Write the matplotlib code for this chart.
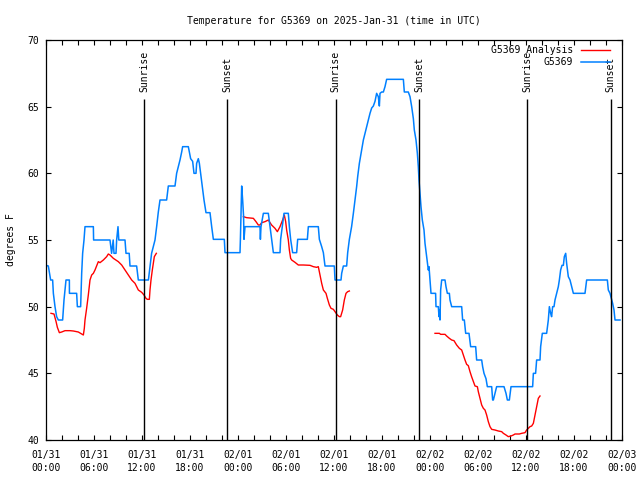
import numpy as np
import matplotlib
matplotlib.use("Agg")
import matplotlib.pyplot as plt

# hours after 2025-01-31 00:00 UTC
obs_hours = [
    0.0, 0.29, 0.58, 0.83, 0.92, 1.125, 1.33, 1.54, 2.08, 2.25, 2.375, 2.5, 2.92, 2.93,
    3.83, 3.92, 4.33, 4.46, 4.58, 4.75, 4.875, 5.92, 5.95, 8.0, 8.2, 8.4, 8.5, 8.75,
    8.83, 9.0, 9.1, 9.875, 10.0, 10.4, 10.5, 11.33, 11.54, 12.8, 13.0, 13.2, 13.625,
    13.83, 14.04, 14.25, 15.08, 15.29, 16.125, 16.33, 16.54, 16.75, 16.96, 17.08, 17.79,
    17.92, 18.08, 18.33, 18.5, 18.75, 18.83, 19.04, 19.17, 19.33, 19.54, 19.75, 20.0,
    20.5, 20.71, 20.92, 22.29, 22.375,
    24.25, 24.3, 24.46, 24.58, 24.7, 24.75, 24.875, 26.75, 26.8, 26.875, 27.17, 27.79,
    28.0, 28.2, 28.42, 29.25, 29.33, 29.54, 29.75, 30.29, 30.42, 30.58, 30.83, 31.33,
    31.46, 32.67, 32.79, 34.04, 34.17, 34.46, 34.67, 34.875, 36.04, 36.125, 36.875,
    36.96, 37.17, 37.58, 37.71, 37.92, 38.2, 38.42, 38.625, 38.83, 38.96, 39.17, 39.46,
    39.67, 39.875, 40.08, 40.29, 40.5, 40.71, 40.92, 41.125, 41.33, 41.54, 41.67, 41.75,
    41.96, 42.17, 42.375, 42.58, 44.67, 44.79, 45.29, 45.5, 45.71, 45.92, 46.04, 46.25,
    46.42, 46.54, 46.625, 46.75, 46.875, 47.04, 47.25, 47.375, 47.58, 47.79, 47.875,
    48.0, 48.125, 48.7, 48.75, 49.04, 49.125, 49.17, 49.25, 49.33, 49.46, 49.875, 50.0,
    50.17, 50.42, 50.5, 50.71, 51.96, 52.08, 52.29, 52.46, 52.875, 53.08, 53.71, 53.83,
    54.46, 54.58, 54.75, 55.0, 55.17, 55.71, 55.83, 55.92, 56.125, 56.33, 57.25, 57.5,
    57.67, 57.92, 58.125, 60.83, 60.92, 61.2, 61.33, 61.75, 61.83, 62.04, 62.58, 62.79,
    62.92, 63.08, 63.2, 63.33, 63.5, 63.625, 63.83, 64.04, 64.17, 64.33, 64.5, 64.67,
    64.79, 64.96, 65.08, 65.29, 65.5, 65.71, 65.92, 67.375, 67.58, 70.17, 70.29, 70.5,
    70.83, 71.0, 71.125, 71.75,
]
obs_temp = [
    53.1, 53.05, 52.0, 52.0, 51.0, 50.0, 49.25, 49.0, 49.0, 50.5, 51.25, 52.0, 52.0, 51.0,
    51.0, 50.0, 50.0, 52.5, 54.0, 55.0, 56.0, 56.0, 55.0, 55.0, 54.0, 55.0, 54.0, 54.0,
    55.0, 56.0, 55.0, 55.0, 54.0, 54.0, 53.05, 53.05, 52.0, 52.0, 53.0, 54.0, 55.0,
    56.0, 57.1, 58.0, 58.0, 59.05, 59.05, 60.0, 60.5, 61.0, 61.6, 62.0, 62.0,
    61.6, 61.1, 60.9, 60.0, 60.0, 60.75, 61.1, 60.75, 60.0, 59.05, 58.0, 57.05,
    57.05, 56.0, 55.05, 55.05, 54.05,
    54.05, 55.05, 59.05, 58.0, 56.75, 55.05, 56.0, 56.0, 55.05, 56.0, 57.0, 57.0,
    56.0, 55.05, 54.05, 54.05, 55.05, 56.0, 57.0, 57.0, 56.0, 55.05, 54.05, 54.05,
    55.05, 55.05, 56.0, 56.0, 55.05, 54.5, 54.05, 53.05, 53.05, 52.0, 52.0,
    52.5, 53.05, 53.05, 54.05, 55.05, 56.0, 57.0, 58.0, 59.0, 59.75, 60.75, 61.75,
    62.5, 63.0, 63.5, 64.0, 64.5, 64.9, 65.05, 65.4, 66.0, 65.75, 65.05, 66.0,
    66.1, 66.1, 66.5, 67.05, 67.05, 66.1, 66.1, 65.75, 65.0, 64.1, 63.25, 62.5,
    61.5, 60.5, 59.5, 58.5, 57.5, 56.5, 55.75, 54.75, 53.75, 52.75, 53.0,
    52.0, 51.0, 51.0, 50.0, 50.0, 49.25, 49.75, 49.0, 51.25, 52.0, 52.0, 51.5,
    51.0, 51.0, 50.5, 50.0, 50.0, 49.0, 49.0, 48.0, 48.0, 47.0, 47.0, 46.0,
    46.0, 45.5, 45.0, 44.6, 44.0, 44.0, 43.0, 43.0, 43.5, 44.0, 44.0, 43.5,
    43.0, 43.0, 44.0, 44.0, 45.0, 45.0, 46.0, 46.0, 47.0, 48.0, 48.0, 49.0,
    50.0, 49.5, 49.25, 50.0, 50.0, 50.5, 51.0, 51.5, 52.0, 52.75, 53.1, 53.1,
    53.75, 54.0, 53.25, 52.25, 52.0, 51.5, 51.0, 51.0, 52.0, 52.0, 51.25, 51.0,
    50.25, 49.75, 49.0, 49.0,
]

# analysis series, gaps marked with nan
ana_hours = [
    0.625, 1.0, 1.25, 1.42, 1.67, 1.96, 2.375, 3.0, 3.42, 4.04, 4.33, 4.67, 4.79, 4.875,
    5.08, 5.29, 5.5, 5.71, 5.92, 6.125, 6.33, 6.54, 6.75, 7.17, 7.58, 7.79, 8.0, 8.42,
    9.04, 9.46, 9.875, 10.29, 10.71, 11.125, 11.54, 11.96, 12.25, 12.5, 12.67, 12.92,
    13.0, 13.125, 13.29, 13.54, 13.79,
    np.nan,
    24.67, 25.08, 25.92, 26.25, 26.54, 26.75, 26.96, 27.375, 27.79, 28.2, 28.625, 28.92,
    29.25, 29.58, 29.79, 29.96, 30.08, 30.29, 30.42, 30.58, 30.71, 31.125, 31.54, 32.17,
    33.0, 33.42, 33.83, 34.04, 34.25, 34.46, 34.67, 35.0, 35.17, 35.42, 35.625, 35.92,
    36.125, 36.42, 36.67, 36.83, 37.08, 37.29, 37.5, 37.71, 37.92,
    np.nan,
    48.625, 49.17, 49.33, 49.875, 50.08, 50.42, 50.71, 51.0, 51.33, 51.67, 51.96, 52.17,
    52.375, 52.58, 52.79, 53.0, 53.2, 53.42, 53.625, 53.92, 54.04, 54.25, 54.46, 54.67,
    54.875, 55.08, 55.29, 55.5, 55.71, 56.125, 56.54, 56.96, 57.17, 57.5, 57.79, 58.125,
    58.42, 58.625, 59.17, 59.46, 59.875, 60.08, 60.29, 60.5, 60.71, 60.92, 61.125, 61.33,
    61.54, 61.75,
]
ana_temp = [
    49.5, 49.45, 48.9, 48.45, 48.05, 48.1, 48.2, 48.2, 48.175, 48.1, 48.0, 47.875, 48.375, 49.0,
    49.875, 50.875, 52.0, 52.375, 52.5, 52.75, 53.05, 53.375, 53.3, 53.5, 53.75, 53.95, 53.875, 53.625,
    53.375, 53.125, 52.75, 52.375, 52.0, 51.75, 51.25, 51.075, 50.875, 50.625, 50.55, 50.55,
    51.25, 52.0, 52.75, 53.75, 54.0,
    np.nan,
    56.75, 56.675, 56.625, 56.375, 56.125, 56.125, 56.3, 56.375, 56.5, 56.125, 55.875, 55.625,
    56.0, 56.5, 56.875, 56.375, 55.75, 55.0, 54.25, 53.625, 53.5, 53.325, 53.125, 53.125,
    53.1, 53.0, 52.95, 53.0, 52.375, 51.75, 51.25, 51.0, 50.625, 50.125, 49.875, 49.8,
    49.625, 49.375, 49.25, 49.25, 49.75, 50.5, 51.0, 51.125, 51.175,
    np.nan,
    48.0, 48.0, 47.925, 47.925, 47.8, 47.625, 47.5, 47.45, 47.125, 46.875, 46.75, 46.375,
    46.0, 45.675, 45.575, 45.125, 44.75, 44.375, 44.05, 44.0, 43.625, 43.125, 42.625, 42.375,
    42.25, 41.875, 41.375, 41.0, 40.8, 40.75, 40.675, 40.625, 40.5, 40.375, 40.25, 40.3,
    40.375, 40.45, 40.45, 40.5, 40.55, 40.75, 40.875, 41.0, 41.05, 41.25, 41.875, 42.5,
    43.125, 43.3,
]

sunrise_hours = [12.28, 36.2, 60.13]
sunset_hours = [22.67, 46.67, 70.58]

tick_hours = list(range(0, 73, 6))
tick_labels = [
    "01/31\n00:00", "01/31\n06:00", "01/31\n12:00", "01/31\n18:00",
    "02/01\n00:00", "02/01\n06:00", "02/01\n12:00", "02/01\n18:00",
    "02/02\n00:00", "02/02\n06:00", "02/02\n12:00", "02/02\n18:00",
    "02/03\n00:00",
]

plt.rcParams["font.family"] = ["DejaVu Sans Mono"]
plt.rcParams["font.size"] = 7

fig = plt.figure(figsize=(6.4, 4.8), dpi=100)
ax = fig.add_axes([46 / 640, 40 / 480, 576 / 640, 400 / 480])

ax.plot(ana_hours, ana_temp, color="#ff0000", lw=1.0, label="G5369 Analysis")
ax.plot(obs_hours, obs_temp, color="#0080ff", lw=1.1, label="G5369")

for h in sunrise_hours:
    ax.vlines(h, 40, 65.55, color="black", lw=1.0)
    ax.text(h, 66.1, "Sunrise", rotation=90, ha="center", va="bottom", fontsize=7)
for h in sunset_hours:
    ax.vlines(h, 40, 65.55, color="black", lw=1.0)
    ax.text(h, 66.1, "Sunset", rotation=90, ha="center", va="bottom", fontsize=7)

ax.set_xlim(0, 72)
ax.set_ylim(40, 70)
ax.set_xticks(tick_hours)
ax.set_xticklabels(tick_labels, linespacing=1.3)
ax.set_xticks(range(0, 73, 2), minor=True)
ax.set_yticks(range(40, 71, 5))
ax.tick_params(which="both", direction="in", top=True, right=True, length=3.3, width=0.8)
ax.tick_params(axis="x", pad=7.5)
ax.tick_params(axis="y", pad=5)
for s in ax.spines.values():
    s.set_linewidth(0.9)

ax.legend(loc="upper right", bbox_to_anchor=(0.979, 0.9875), frameon=False,
          markerfirst=False, borderpad=0, borderaxespad=0, handlelength=3.0,
          handletextpad=0.8, labelspacing=0.25, fontsize=7)

fig.text(334 / 640, 1 - 20.7 / 480, "Temperature for G5369 on 2025-Jan-31 (time in UTC)",
         ha="center", va="center", fontsize=7)
fig.text(11 / 640, 0.5, "degrees F", rotation=90, ha="center", va="center", fontsize=7)

fig.savefig("out.png", dpi=100)
